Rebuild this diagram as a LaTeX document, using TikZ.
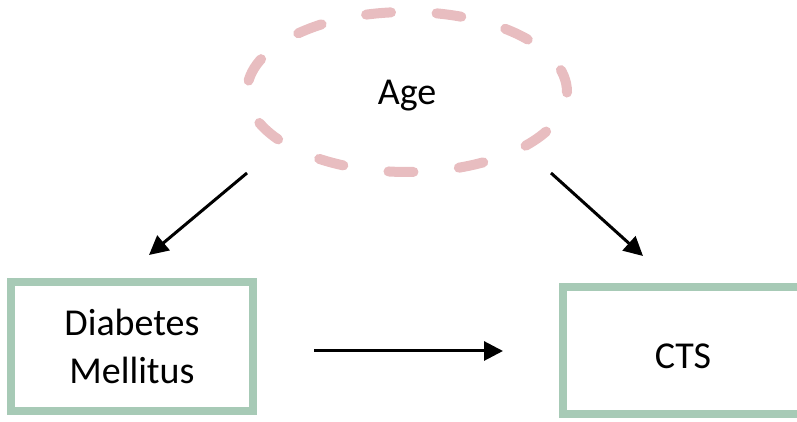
\documentclass[tikz,border=0pt]{standalone}
\usepackage{fontspec}
\setmainfont{Carlito}
\usetikzlibrary{arrows.meta,shapes.geometric}
\definecolor{confpink}{RGB}{232,189,192}
\definecolor{boxgreen}{RGB}{167,202,182}
\begin{document}
\begin{tikzpicture}[x=1pt,y=1pt,
  varbox/.style={draw=boxgreen, line width=8pt, rectangle, align=center,
    font=\fontsize{38}{48}\selectfont},
  confounder/.style={draw=confpink, ellipse, line width=10pt, line cap=round,
    dash pattern=on 25pt off 45.6pt, dash phase=2pt,
    minimum width=320pt, minimum height=160pt, inner sep=0pt,
    font=\fontsize{38}{48}\selectfont, text depth=0pt},
  causal/.style={draw=black, line width=3pt,
    -{Triangle[length=19pt,width=19pt]}}]
\useasboundingbox (0,0) rectangle (797,422);
\begin{scope}
\clip (0,0) rectangle (797,422);
% confounder and the two variables
\node[confounder] (age) at (407,330) {Age};
\node[varbox, minimum width=242pt, minimum height=129pt] (dm) at (132,75.5)
  {Diabetes\\Mellitus};
\node[varbox, minimum width=240pt, minimum height=127pt, text height=37pt,
  text depth=0pt] (cts) at (683,71.5) {CTS};
\end{scope}
% arrow end points
\coordinate (ageL) at (247,249);
\coordinate (dmT) at (149,167);
\coordinate (ageR) at (551,249);
\coordinate (ctsT) at (643,166);
\coordinate (dmR) at (314,71);
\coordinate (ctsL) at (503,71);
% causal paths
\draw[causal] (ageL) -- (dmT);
\draw[causal] (ageR) -- (ctsT);
\draw[causal] (dmR) -- (ctsL);
\end{tikzpicture}
\end{document}
